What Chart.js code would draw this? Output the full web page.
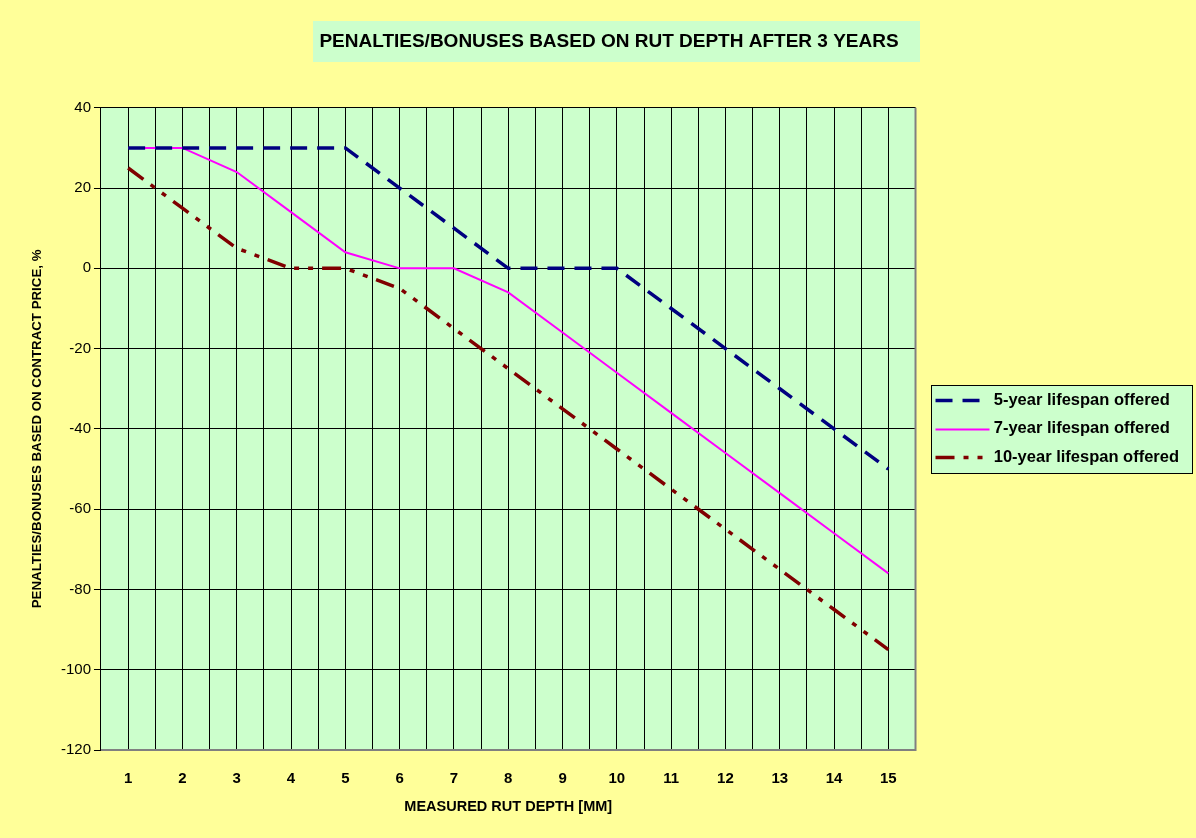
<!DOCTYPE html>
<html>
<head>
<meta charset="utf-8">
<title>Penalties/Bonuses based on rut depth</title>
<script src="https://cdn.jsdelivr.net/npm/chart.js@4.4.1/dist/chart.umd.min.js"></script>
<style>
    html, body { margin: 0; padding: 0; background: #FFFF99; }
    canvas { display: block; }
</style>
</head>
<body>
<canvas id="rutChart" width="1196" height="838"></canvas>
<script>
// measured rut depth, mm
const rutDepth = [1, 2, 3, 4, 5, 6, 7, 8, 9, 10, 11, 12, 13, 14, 15];
// penalty / bonus, % of contract price
const fiveYear = [30, 30, 30, 30, 30, 20, 10, 0, 0, 0, -10, -20, -30, -40, -50];
const sevenYear = [30, 30, 24, 14, 4, 0, 0, -6, -16, -26, -36, -46, -56, -66, -76];
const tenYear = [25, 15, 5, 0, 0, -5, -15, -25, -35, -45, -55, -65, -75, -85, -95];
const seriesNames = ['5-year lifespan offered', '7-year lifespan offered', '10-year lifespan offered'];
const yTicks = [40, 20, 0, -20, -40, -60, -80, -100, -120];

const FONT = "'Liberation Sans', Arial, sans-serif";
// legend sample: the box slot is wider than the drawn line so there is a gap
// between the plot area and the legend frame
const LEGEND_GAP = 8;
const LEGEND_LINE = 54;

function toPoints(values) {
    return values.map(function(v, i) { return { x: rutDepth[i], y: v }; });
}

function legendBounds(chart) {
    const boxes = chart.legend.legendHitBoxes;
    let l = Infinity, t = Infinity, r = -Infinity, b = -Infinity;
    boxes.forEach(function(h) {
        l = Math.min(l, h.left); t = Math.min(t, h.top);
        r = Math.max(r, h.left + h.width); b = Math.max(b, h.top + h.height);
    });
    return { l: l, t: t, r: r, b: b };
}

const backgroundPlugin = {
    id: 'backgrounds',
    beforeDraw: function(chart) {
        const c = chart.ctx;
        const area = chart.chartArea;
        c.save();
        c.fillStyle = '#FFFF99';
        c.fillRect(0, 0, chart.width, chart.height);

        // title box
        const tb = chart.titleBlock;
        const tOpts = chart.options.plugins.title;
        c.font = 'bold ' + tOpts.font.size + 'px ' + FONT;
        const tw = c.measureText(tOpts.text).width;
        const cx = (tb.left + tb.right) / 2;
        const cy = tb.top + tOpts.padding.top + tOpts.font.size * 1.2 / 2;
        c.fillStyle = '#CCFFCC';
        c.fillRect(Math.round(cx - tw / 2 - 6), Math.round(cy - 20.5), Math.round(tw + 28), 41);

        // plot area
        c.fillRect(area.left, area.top, area.right - area.left, area.bottom - area.top);

        // legend box
        if (chart.legend.legendHitBoxes && chart.legend.legendHitBoxes.length) {
            const lb = legendBounds(chart);
            const x0 = Math.round(lb.l + LEGEND_GAP - 5) + 0.5, y0 = Math.round(lb.t - 7) + 0.5;
            const w = Math.round(lb.r + 13 - (lb.l + LEGEND_GAP - 5)), h = Math.round(lb.b - lb.t + 14);
            c.fillStyle = '#CCFFCC';
            c.fillRect(x0, y0, w, h);
            c.strokeStyle = '#000000';
            c.lineWidth = 1;
            c.strokeRect(x0, y0, w, h);
        }
        c.restore();
    },
    afterDatasetsDraw: function(chart) {
        const c = chart.ctx;
        const area = chart.chartArea;
        c.save();
        c.strokeStyle = '#808080';
        c.lineWidth = 2;
        c.beginPath();
        c.moveTo(area.left, area.bottom);
        c.lineTo(area.right, area.bottom);
        c.lineTo(area.right, area.top);
        c.stroke();
        c.restore();
    },
    afterDraw: function(chart) {
        // line samples for the legend, with each series' dash pattern
        const c = chart.ctx;
        const boxes = chart.legend.legendHitBoxes || [];
        c.save();
        boxes.forEach(function(h, i) {
            const ds = chart.data.datasets[i];
            const y = Math.round(h.top + h.height / 2) + 0.5;
            c.strokeStyle = ds.borderColor;
            c.lineWidth = ds.borderWidth;
            c.setLineDash(ds.borderDash || []);
            c.beginPath();
            c.moveTo(h.left + LEGEND_GAP, y);
            c.lineTo(h.left + LEGEND_GAP + LEGEND_LINE, y);
            c.stroke();
        });
        c.restore();
    }
};

const ctx = document.getElementById('rutChart').getContext('2d');

new Chart(ctx, {
    type: 'line',
    data: {
        datasets: [
            {
                label: seriesNames[0],
                data: toPoints(fiveYear),
                borderColor: '#000080',
                backgroundColor: '#000080',
                borderWidth: 3.5,
                borderDash: [17, 10],
                pointRadius: 0,
                tension: 0
            },
            {
                label: seriesNames[1],
                data: toPoints(sevenYear),
                borderColor: '#FF00FF',
                backgroundColor: '#FF00FF',
                borderWidth: 2,
                pointRadius: 0,
                tension: 0
            },
            {
                label: seriesNames[2],
                data: toPoints(tenYear),
                borderColor: '#800000',
                backgroundColor: '#800000',
                borderWidth: 3.5,
                borderDash: [19, 9, 5, 9, 5, 9],
                pointRadius: 0,
                tension: 0
            }
        ]
    },
    options: {
        responsive: false,
        animation: false,
        layout: {
            padding: { left: 29, right: 7, top: 0, bottom: 22 }
        },
        plugins: {
            title: {
                display: true,
                text: 'PENALTIES/BONUSES BASED ON RUT DEPTH AFTER 3 YEARS',
                color: '#000000',
                font: { family: FONT, size: 19, weight: 'bold' },
                padding: { top: 30, bottom: 55 }
            },
            legend: {
                position: 'right',
                fullSize: false,
                labels: {
                    color: '#000000',
                    font: { family: FONT, size: 16.5, weight: 'bold' },
                    boxWidth: LEGEND_GAP + 50,
                    boxHeight: 0,
                    padding: 12,
                    generateLabels: function(chart) {
                        const items = Chart.defaults.plugins.legend.labels.generateLabels(chart);
                        return items.map(function(it) {
                            it.lineWidth = 0;
                            it.fillStyle = 'rgba(0,0,0,0)';
                            return it;
                        });
                    }
                }
            },
            tooltip: { enabled: false }
        },
        scales: {
            x: {
                type: 'linear',
                min: 0.5,
                max: 15.5,
                ticks: {
                    stepSize: 0.5,
                    maxTicksLimit: 100,
                    autoSkip: false,
                    maxRotation: 0,
                    padding: 20,
                    color: '#000000',
                    font: { family: FONT, size: 15, weight: 'bold' },
                    callback: function(value) {
                        return Number.isInteger(value) ? String(value) : '';
                    }
                },
                grid: { color: '#000000', lineWidth: 1, drawTicks: false },
                border: { display: false },
                title: {
                    display: true,
                    text: 'MEASURED RUT DEPTH [MM]',
                    color: '#000000',
                    font: { family: FONT, size: 14.5, weight: 'bold' },
                    padding: { top: 10, bottom: 0 }
                },
                afterFit: function(scale) { scale.height = 66; }
            },
            y: {
                min: yTicks[yTicks.length - 1],
                max: yTicks[0],
                ticks: {
                    stepSize: 20,
                    padding: 3,
                    color: '#000000',
                    font: { family: FONT, size: 15 }
                },
                grid: { color: '#000000', lineWidth: 1, tickLength: 7 },
                border: { color: '#000000', width: 1 },
                title: {
                    display: true,
                    text: 'PENALTIES/BONUSES BASED ON CONTRACT PRICE, %',
                    color: '#000000',
                    font: { family: FONT, size: 13.3, weight: 'bold' },
                    padding: { top: 0, bottom: 13 }
                }
            }
        }
    },
    plugins: [backgroundPlugin]
});
</script>
</body>
</html>
